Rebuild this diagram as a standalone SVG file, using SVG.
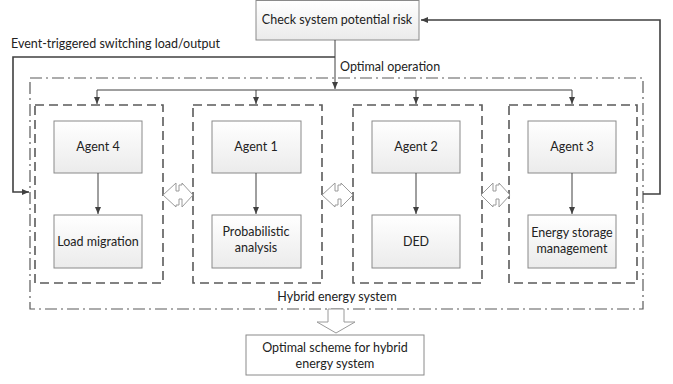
<svg xmlns="http://www.w3.org/2000/svg" width="673" height="384" viewBox="0 0 673 384">
<defs>
<linearGradient id="g" x1="0" y1="0" x2="0" y2="1"><stop offset="0" stop-color="#ffffff"/><stop offset="1" stop-color="#ebebeb"/></linearGradient>
<marker id="ah" markerWidth="8" markerHeight="8" refX="7" refY="4" orient="auto" markerUnits="userSpaceOnUse"><path d="M0,1 L7,4 L0,7 Z" fill="#404040"/></marker>
</defs>
<style>
text{font-family:Lato,"Liberation Sans",sans-serif;font-size:12.5px;fill:#222}
.box{fill:url(#g);stroke:#8a8a8a;stroke-width:1}
.wbox{fill:#fff;stroke:#8a8a8a;stroke-width:1}
.cont{fill:none;stroke:#5a5a5a;stroke-width:1.6;stroke-dasharray:9,5}
.outer{fill:none;stroke:#5a5a5a;stroke-width:1.2;stroke-dasharray:12,4,2,4}
.ln{fill:none;stroke:#404040;stroke-width:1}
.fb{fill:none;stroke:#404040;stroke-width:1.6}
.dbl{fill:#fff;stroke:#9a9a9a;stroke-width:1}
</style>
<rect x="0" y="0" width="673" height="384" fill="#fff"/>

<g id="outer">
<rect class="outer" x="30" y="78" width="613" height="231"/>
<text x="337" y="301" text-anchor="middle">Hybrid energy system</text>
</g>

<g id="risk"><rect class="box" x="256" y="0.5" width="163" height="39.5"/><text x="337" y="24" text-anchor="middle">Check system potential risk</text></g>

<g id="c4"><rect class="cont" x="35" y="105" width="128" height="178"/></g>
<g id="c1"><rect class="cont" x="193" y="105" width="129" height="178"/></g>
<g id="c2"><rect class="cont" x="353" y="105" width="129" height="178"/></g>
<g id="c3"><rect class="cont" x="509" y="105" width="128" height="178"/></g>

<g id="agent4"><rect class="box" x="54" y="121" width="88" height="52"/><text x="98" y="151" text-anchor="middle">Agent 4</text></g>
<g id="load"><rect class="box" x="54" y="215" width="88" height="53"/><text x="98" y="246" text-anchor="middle">Load migration</text></g>
<g id="agent1"><rect class="box" x="212" y="121" width="89" height="52"/><text x="256" y="151" text-anchor="middle">Agent 1</text></g>
<g id="prob"><rect class="box" x="212" y="215" width="89" height="53"/><text x="256" y="236" text-anchor="middle">Probabilistic</text><text x="256" y="252" text-anchor="middle">analysis</text></g>
<g id="agent2"><rect class="box" x="372" y="121" width="88" height="52"/><text x="416" y="151" text-anchor="middle">Agent 2</text></g>
<g id="ded"><rect class="box" x="372" y="215" width="88" height="53"/><text x="416" y="246" text-anchor="middle">DED</text></g>
<g id="agent3"><rect class="box" x="528" y="121" width="88" height="52"/><text x="572" y="151" text-anchor="middle">Agent 3</text></g>
<g id="ess"><rect class="box" x="528" y="215" width="88" height="53"/><text x="572" y="237" text-anchor="middle">Energy storage</text><text x="572" y="253" text-anchor="middle">management</text></g>

<g id="result"><rect class="wbox" x="246" y="335" width="178" height="40"/><text x="335" y="352" text-anchor="middle">Optimal scheme for hybrid</text><text x="335" y="368" text-anchor="middle">energy system</text></g>

<g id="connectors">
<path class="ln" d="M335,40 V89" marker-end="url(#ah)"/>
<path class="ln" d="M97,90 H572"/>
<path class="ln" d="M97,90 V104" marker-end="url(#ah)"/>
<path class="ln" d="M256,90 V104" marker-end="url(#ah)"/>
<path class="ln" d="M416,90 V104" marker-end="url(#ah)"/>
<path class="ln" d="M572,90 V104" marker-end="url(#ah)"/>
<path class="ln" d="M98,173 V214" marker-end="url(#ah)"/>
<path class="ln" d="M256,173 V214" marker-end="url(#ah)"/>
<path class="ln" d="M416,173 V214" marker-end="url(#ah)"/>
<path class="ln" d="M572,173 V214" marker-end="url(#ah)"/>
<path class="fb" d="M335,57 H13 V192 H29" marker-end="url(#ah)"/>
<path class="fb" d="M643,194 H660 V20 H421" marker-end="url(#ah)"/>
<text x="11" y="48">Event-triggered switching load/output</text>
<text x="340" y="71">Optimal operation</text>
<path class="dbl" d="M163,195 L176,183 L176,191 L179,191 L179,185 L182,185 L182,183 L193,195 L182,207 L182,199 L179,199 L179,205 L176,205 L176,207 Z"/>
<path class="dbl" d="M322,195 L335,183 L335,191 L338,191 L338,185 L341,185 L341,183 L353,195 L341,207 L341,199 L338,199 L338,205 L335,205 L335,207 Z"/>
<path class="dbl" d="M481,195 L493,183 L493,191 L496,191 L496,185 L499,185 L499,183 L510,195 L499,207 L499,199 L496,199 L496,205 L493,205 L493,207 Z"/>
<path class="dbl" d="M328,309 H344 V322 H355 L336,333 L317,322 H328 Z"/>
</g>
</svg>
